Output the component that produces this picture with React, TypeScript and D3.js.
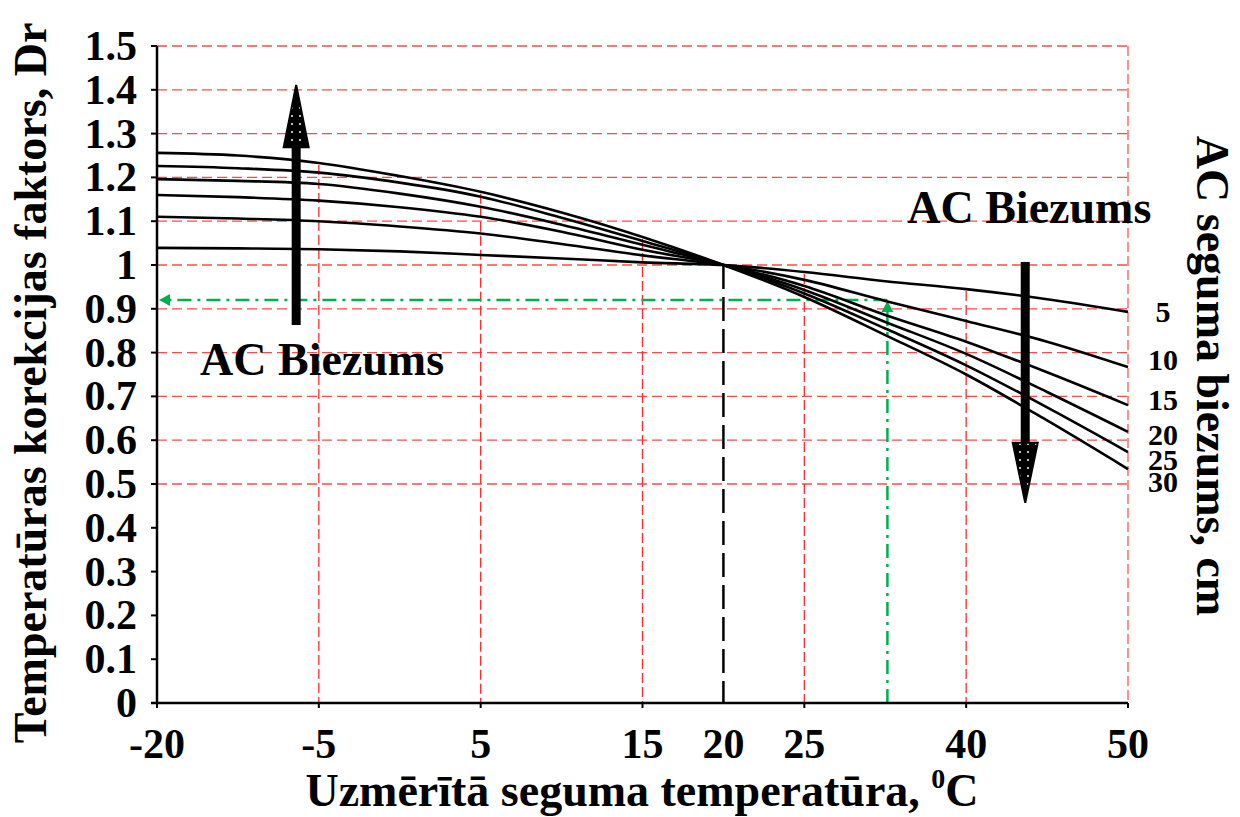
import React from "react";
import * as d3 from "d3";

// ---------- data ----------
const temperatures = [-20, -12.5, -5, 0, 5, 10, 15, 20, 25, 32.5, 40, 45, 50];
const thicknessCm = [5, 10, 15, 20, 25, 30];
const dr5 = [1.039, 1.038, 1.036, 1.031, 1.023, 1.015, 1.006, 1.0, 0.984, 0.963, 0.945, 0.922, 0.893];
const dr10 = [1.11, 1.106, 1.1, 1.088, 1.072, 1.048, 1.022, 1.0, 0.966, 0.918, 0.872, 0.825, 0.767];
const dr15 = [1.16, 1.155, 1.147, 1.132, 1.11, 1.076, 1.035, 1.0, 0.952, 0.886, 0.825, 0.755, 0.68];
const dr20 = [1.196, 1.192, 1.185, 1.163, 1.133, 1.092, 1.046, 1.0, 0.943, 0.87, 0.797, 0.71, 0.619];
const dr25 = [1.226, 1.221, 1.211, 1.188, 1.156, 1.108, 1.055, 1.0, 0.935, 0.855, 0.771, 0.675, 0.573];
const dr30 = [1.256, 1.25, 1.233, 1.203, 1.167, 1.12, 1.064, 1.0, 0.927, 0.84, 0.75, 0.645, 0.534];
const seriesValues = [dr5, dr10, dr15, dr20, dr25, dr30];
// y position (Dr units) of each thickness label on the right
const thicknessLabelY = [0.893, 0.785, 0.694, 0.612, 0.555, 0.505];

const xTickValues = [-20, -5, 5, 15, 20, 25, 40, 50];
const xTickLabels = ["-20", "-5", "5", "15", "20", "25", "40", "50"];
const xGridValues = [-5, 5, 15, 25, 40];
const yTickValues = [0, 0.1, 0.2, 0.3, 0.4, 0.5, 0.6, 0.7, 0.8, 0.9, 1, 1.1, 1.2, 1.3, 1.4, 1.5];
const yTickLabels = ["0", "0.1", "0.2", "0.3", "0.4", "0.5", "0.6", "0.7", "0.8", "0.9", "1", "1.1", "1.2", "1.3", "1.4", "1.5"];
const yGridValues = [0.5, 0.6, 0.7, 0.8, 0.9, 1, 1.1, 1.2, 1.3, 1.4, 1.5];

// reference construction (example reading)
const refTemp = 20;
const exampleTemp = 32.7;
const exampleDr = 0.92;

// annotation arrows (data units)
const arrowUp = { t: -7.1, from: 0.863, headBase: 1.269, tip: 1.411 };
const arrowDown = { t: 43.65, from: 1.007, headBase: 0.594, tip: 0.457 };
const noteLeft = { t: -4.8, dr: 0.75, text: "AC Biezums" };
const noteRight = { t: 43.9, dr: 1.097, text: "AC Biezums" };

// ---------- layout ----------
const W = 1240;
const H = 817;
const M = { left: 157, right: 112, top: 46, bottom: 114 };
const gridSlots = [0, 1, 2, 3, 3.5, 4, 5, 6];
const FONT = "'Liberation Serif', 'Times New Roman', serif";
const RED = "#ff2a2a";
const GREEN = "#00b050";

export default function App() {
  const x0 = M.left;
  const x1 = W - M.right;
  const xScale = d3
    .scaleLinear()
    .domain(xTickValues)
    .range(gridSlots.map((s) => x0 + (s / 6) * (x1 - x0)));
  const yScale = d3.scaleLinear().domain([0, 1.5]).range([H - M.bottom, M.top]);

  const line = d3
    .line<number>()
    .x((_, i) => xScale(temperatures[i]))
    .y((d) => yScale(d))
    .curve(d3.curveMonotoneX);

  const topAt = (t: number) => {
    const i = temperatures.indexOf(t);
    return d3.max(seriesValues, (s) => s[i]) as number;
  };

  const headW = 12.5;
  const shaftW = 4.5;
  const upX = xScale(arrowUp.t);
  const dnX = xScale(arrowDown.t);

  const exX = xScale(exampleTemp);
  const exY = yScale(exampleDr);

  return (
    <svg
      width={W}
      height={H}
      style={{ position: "absolute", left: 0, top: 0, background: "#fff" }}
      fontFamily={FONT}
      fontWeight="bold"
    >
      <defs>
        <pattern id="stipple" width="8" height="8" patternUnits="userSpaceOnUse">
          <rect width="8" height="8" fill="#000" />
          <circle cx="4" cy="4" r="1" fill="#fff" />
        </pattern>
      </defs>
      <rect width={W} height={H} fill="#fff" />

      {/* horizontal grid */}
      {yGridValues.map((v) => (
        <line
          key={"hg" + v}
          x1={x0}
          x2={x1}
          y1={yScale(v)}
          y2={yScale(v)}
          stroke={RED}
          strokeOpacity={0.85}
          strokeWidth={1.3}
          strokeDasharray="10,5"
        />
      ))}
      {/* vertical grid */}
      {xGridValues.map((t) => (
        <line
          key={"vg" + t}
          x1={xScale(t)}
          x2={xScale(t)}
          y1={yScale(topAt(t)) + 2}
          y2={yScale(0)}
          stroke={RED}
          strokeWidth={1.3}
          strokeDasharray="10,4"
        />
      ))}
      <line
        x1={x1}
        x2={x1}
        y1={yScale(1.5)}
        y2={yScale(0)}
        stroke={RED}
        strokeOpacity={0.8}
        strokeWidth={1.3}
        strokeDasharray="10,4"
      />

      {/* reference dashed line at 20 C */}
      <line
        x1={xScale(refTemp)}
        x2={xScale(refTemp)}
        y1={yScale(1)}
        y2={yScale(0)}
        stroke="#000"
        strokeWidth={2.5}
        strokeDasharray="24,8"
      />

      {/* green example reading */}
      <line
        x1={exX}
        x2={x0 + 10}
        y1={exY}
        y2={exY}
        stroke={GREEN}
        strokeWidth={2.5}
        strokeDasharray="14,6,3,6"
      />
      <path d={`M${x0 + 2},${exY} l11,-6 l0,12 z`} fill={GREEN} />
      <line
        x1={exX}
        x2={exX}
        y1={yScale(0)}
        y2={exY + 10}
        stroke={GREEN}
        strokeWidth={2.5}
        strokeDasharray="14,6,3,6"
      />
      <path d={`M${exX},${exY + 1} l-6,11 l12,0 z`} fill={GREEN} />

      {/* curves */}
      {seriesValues.map((s, i) => (
        <path
          key={"s" + thicknessCm[i]}
          d={line(s) as string}
          fill="none"
          stroke="#000"
          strokeWidth={2.6}
        />
      ))}

      {/* axes */}
      <line x1={x0} x2={x0} y1={yScale(1.5)} y2={yScale(0)} stroke="#000" strokeWidth={2.5} />
      <line x1={x0 - 6} x2={x1} y1={yScale(0)} y2={yScale(0)} stroke="#000" strokeWidth={2.5} />
      {yTickValues.map((v, i) => (
        <g key={"yt" + i}>
          <line x1={x0 - 6} x2={x0} y1={yScale(v)} y2={yScale(v)} stroke="#000" strokeWidth={2} />
          <text
            x={137}
            y={yScale(v)}
            textAnchor="end"
            dominantBaseline="central"
            fontSize={42}
          >
            {yTickLabels[i]}
          </text>
        </g>
      ))}
      {xTickValues.map((t, i) => (
        <g key={"xt" + i}>
          {t !== refTemp && (
            <line x1={xScale(t)} x2={xScale(t)} y1={yScale(0)} y2={yScale(0) + 5} stroke="#000" strokeWidth={2} />
          )}
          <text x={xScale(t)} y={758} textAnchor="middle" fontSize={42}>
            {xTickLabels[i]}
          </text>
        </g>
      ))}

      {/* thick arrows */}
      <rect x={upX - shaftW} y={yScale(arrowUp.headBase)} width={shaftW * 2} height={yScale(arrowUp.from) - yScale(arrowUp.headBase)} fill="#000" />
      <path
        d={`M${upX},${yScale(arrowUp.tip)} L${upX + headW},${yScale(arrowUp.headBase)} L${upX - headW},${yScale(arrowUp.headBase)} Z`}
        fill="url(#stipple)"
        stroke="#000"
        strokeWidth={2}
      />
      <rect x={dnX - shaftW} y={yScale(arrowDown.from)} width={shaftW * 2} height={yScale(arrowDown.headBase) - yScale(arrowDown.from)} fill="#000" />
      <path
        d={`M${dnX},${yScale(arrowDown.tip)} L${dnX + headW},${yScale(arrowDown.headBase)} L${dnX - headW},${yScale(arrowDown.headBase)} Z`}
        fill="url(#stipple)"
        stroke="#000"
        strokeWidth={2}
      />

      {/* annotations */}
      <text x={xScale(noteLeft.t)} y={yScale(noteLeft.dr)} textAnchor="middle" fontSize={46}>
        {noteLeft.text}
      </text>
      <text x={xScale(noteRight.t)} y={yScale(noteRight.dr)} textAnchor="middle" fontSize={46}>
        {noteRight.text}
      </text>

      {/* thickness labels */}
      {thicknessCm.map((c, i) => (
        <text
          key={"tl" + c}
          x={1163}
          y={yScale(thicknessLabelY[i])}
          textAnchor="middle"
          dominantBaseline="central"
          fontSize={30}
        >
          {c}
        </text>
      ))}

      {/* axis titles */}
      <text transform={`translate(46,383) rotate(-90)`} textAnchor="middle" fontSize={46}>
        Temperatūras korekcijas faktors, Dr
      </text>
      <text transform={`translate(1197,376) rotate(90)`} textAnchor="middle" fontSize={46}>
        AC seguma biezums, cm
      </text>
      <text x={642} y={806} textAnchor="middle" fontSize={46}>
        Uzmērītā seguma temperatūra,{" "}
        <tspan fontSize={28} dy={-18}>0</tspan>
        <tspan dy={18}>C</tspan>
      </text>
    </svg>
  );
}
